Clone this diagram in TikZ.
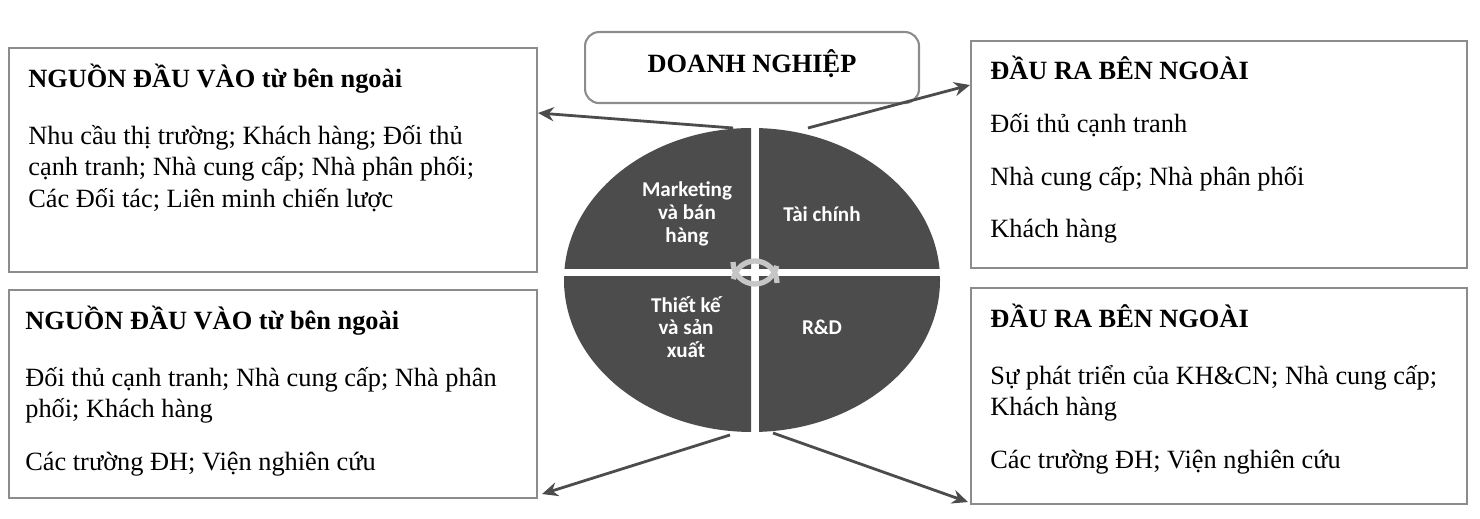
\documentclass[tikz,border=0pt]{standalone}
\usepackage{fontspec}
\setmainfont{Liberation Serif}
\newfontfamily\calibri{Carlito}
\usetikzlibrary{positioning,calc,arrows.meta}

\begin{document}
\begin{tikzpicture}[
    x=0.02cm, y=-0.02cm,
    box/.style={draw=gray!90, line width=1.2pt, anchor=north west, inner sep=0pt},
    txt/.style={anchor=north west, align=left, inner sep=0pt, font=\fontsize{15}{18}\selectfont},
    head/.style={font=\fontsize{15}{18}\selectfont\bfseries},
    quarter/.style={fill=black!70},
    ring/.style={gray!45, line width=3pt},
    qlabel/.style={text=white, align=center, font=\calibri\bfseries\fontsize{12}{13}\selectfont},
    link/.style={-{Stealth[length=9pt,width=8pt]}, draw=black!70, line width=1.6pt}
]
    \useasboundingbox (0,0) rectangle (1480,519);

    % boxes
    \node[box, minimum width=10.56cm, minimum height=4.48cm] (inTop) at (8,47) {};
    \node[box, minimum width=10.56cm, minimum height=4.16cm] (inBot) at (8,289) {};
    \node[box, minimum width=9.92cm, minimum height=4.54cm] (outTop) at (970,40) {};
    \node[box, minimum width=9.92cm, minimum height=4.32cm] (outBot) at (970,287) {};
    \node[box, rounded corners=8pt, minimum width=6.68cm, minimum height=1.42cm] (firm) at (584,31) {};
    \node[head, anchor=north] at ($(firm.north)+(0,12)$) {DOANH NGHIỆP};

    \node[txt] at ($(inTop.north west)+(20,17)$) {\textbf{NGUỒN ĐẦU VÀO từ bên ngoài}\\[14pt]
        Nhu cầu thị trường; Khách hàng; Đối thủ\\
        cạnh tranh; Nhà cung cấp; Nhà phân phối;\\
        Các Đối tác; Liên minh chiến lược};
    \node[txt] at ($(inBot.north west)+(17,17)$) {\textbf{NGUỒN ĐẦU VÀO từ bên ngoài}\\[14pt]
        Đối thủ cạnh tranh; Nhà cung cấp; Nhà phân\\
        phối; Khách hàng\\[12pt]
        Các trường ĐH; Viện nghiên cứu};
    \node[txt] at ($(outTop.north west)+(20,16)$) {\textbf{ĐẦU RA BÊN NGOÀI}\\[12pt]
        Đối thủ cạnh tranh\\[12pt]
        Nhà cung cấp; Nhà phân phối\\[12pt]
        Khách hàng};
    \node[txt] at ($(outBot.north west)+(20,17)$) {\textbf{ĐẦU RA BÊN NGOÀI}\\[14pt]
        Sự phát triển của KH\&CN; Nhà cung cấp;\\
        Khách hàng\\[12pt]
        Các trường ĐH; Viện nghiên cứu};

    % disc of four quarters
    \foreach \sx/\sy in {-1/-1, 1/-1, -1/1, 1/1} {
        \begin{scope}
            \clip (755+\sx*4,273+\sy*4) rectangle (755+\sx*220,273+\sy*180);
            \fill[quarter] (752,280) ellipse [x radius=188, y radius=152];
        \end{scope}
    }
    \draw[ring] (733,262) arc[start angle=180, end angle=10, radius=22];
    \draw[ring] (777,283) arc[start angle=0, end angle=-170, radius=22];

    \node[qlabel] (mkt) at (687,214) {Marketing\\và bán\\hàng};
    \node[qlabel] (fin) at (822,214) {Tài chính};
    \node[qlabel] (mfg) at (686,327) {Thiết kế\\và sản\\xuất};
    \node[qlabel] (rnd) at (822,327) {R\&D};

    % connectors
    \coordinate (pTL) at (733,128);
    \coordinate (pTR) at (808,128);
    \coordinate (pBL) at (730,435);
    \coordinate (pBR) at (773,433);
    \draw[link] (pTL) -- ($(inTop.north east)+(0,66)$);
    \draw[link] (pTR) -- ($(outTop.north west)+(0,45)$);
    \draw[link] (pBL) -- ($(inBot.south east)+(4,-5)$);
    \draw[link] (pBR) -- ($(outBot.south west)+(-2,-3)$);
\end{tikzpicture}
\end{document}
